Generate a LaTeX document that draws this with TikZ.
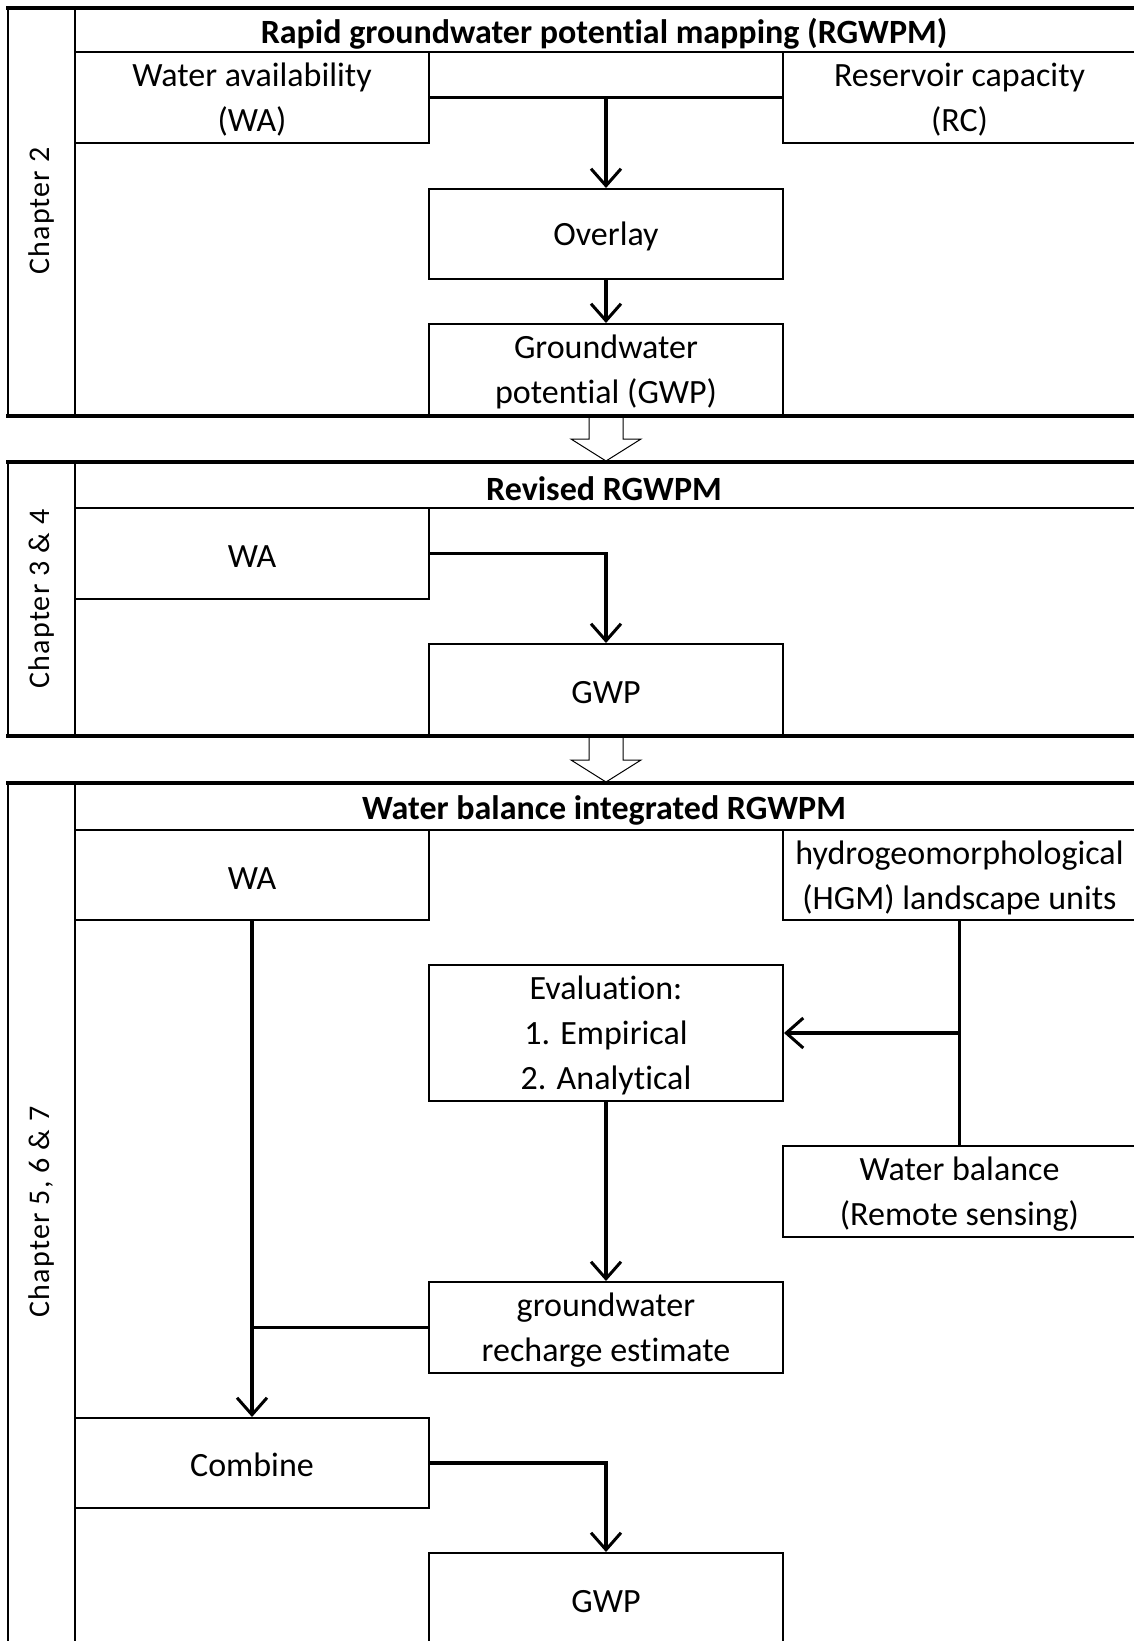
\documentclass[tikz,border=0pt]{standalone}
\usepackage{fontspec}
\setmainfont{Carlito}[Ligatures=NoCommon]
\newfontfamily\chapfont[LetterSpace=4, Ligatures=NoCommon]{Carlito}
\usetikzlibrary{arrows.meta}

\begin{document}
\begin{tikzpicture}[x=1pt, y=-1pt,
  txt/.style={font=\fontsize{34}{45}\selectfont},
  box/.style={txt, draw, line width=2pt, align=center, inner sep=0pt, minimum height=91pt,
    execute at begin node={\rule{0pt}{28pt}}},
  lines/.style={text depth=-5pt},
  leftbox/.style={box, minimum width=354pt},
  midbox/.style={box, minimum width=354pt},
  rightbox/.style={box, minimum width=353pt},
  heading/.style={font=\fontsize{34}{40}\selectfont\bfseries},
  chapter/.style={font=\chapfont\fontsize{30}{36}\selectfont, rotate=90},
  frame/.style={line width=2pt},
  sep/.style={line width=4pt},
  link/.style={line width=3.5pt},
  arr/.style={link, -{Straight Barb[length=17pt, width=30pt, line width=3pt]}},
  hollow/.style={draw, fill=white, line width=1pt}
]
\useasboundingbox[fill=white] (0,0) rectangle (1133,1641);

% Section frames: top / bottom / heading band
\foreach \top/\bot/\head in {8/416/52, 462/736/508, 783/1660/830} {
  \draw[frame] (8,\top) -- (8,\bot);
  \draw[frame] (75,\top) -- (75,\bot);
  \draw[frame] (75,\head) -- (1140,\head);
}

% Chapter 2
\node[chapter] (ch1) at (42,211) {Chapter 2};
\node[heading] (t1) at (604,34) {Rapid groundwater potential mapping (RGWPM)};
\node[leftbox, lines] (wa1) at (252,97.5) {Water availability\\(WA)};
\node[rightbox, lines] (rc1) at (959.5,97.5) {Reservoir capacity\\(RC)};
\node[midbox, minimum height=90pt] (overlay) at (606,234) {Overlay};
\node[midbox, lines] (gwp1) at (606,369.5) {Groundwater\\potential (GWP)};

\draw[link] (wa1.east) -- (rc1.west);
\coordinate (j1) at (wa1.east -| overlay.north);
\draw[arr] (j1) -- (overlay.north);
\draw[arr] (overlay.south) -- (gwp1.south |- gwp1.north);

% Chapter 3 & 4
\node[chapter] (ch2) at (42,599) {Chapter 3 \& 4};
\node[heading] (t2) at (604,489) {Revised RGWPM};
\node[leftbox] (wa2) at (252,553.5) {WA};
\node[midbox, minimum height=92pt] (gwp2) at (606,690) {GWP};

\draw[arr] (wa2.east) -| (gwp2.north);

% Chapter 5, 6 & 7
\node[chapter] (ch3) at (42,1212) {Chapter 5, 6 \& 7};
\node[heading] (t3) at (604,810.5) {Water balance integrated RGWPM};
\node[leftbox, minimum height=90pt] (wa3) at (252,875) {WA};
\node[rightbox, lines, minimum height=90pt] (hgm) at (959.5,875) {hydrogeomorphological\\(HGM) landscape units};
\node[midbox, lines, minimum height=136pt] (eval) at (606,1033) {Evaluation:\\1. Empirical\\2. Analytical};
\node[rightbox, lines] (wb) at (959.5,1191.5) {Water balance\\(Remote sensing)};
\node[midbox, lines] (rech) at (606,1327.5) {groundwater\\recharge estimate};
\node[leftbox, minimum height=90pt] (comb) at (252,1463) {Combine};
\node[midbox, minimum height=92pt] (gwp3) at (606,1599) {GWP};

\draw[link] (hgm.south) -- (wb.north);
\draw[arr] (eval.east -| hgm.south) -- (eval.east);
\draw[arr] (eval.south) -- (rech.north);
\draw[arr] (wa3.south) -- (comb.north);
\draw[link] (rech.west) -- (rech.west -| wa3.south);
\draw[arr] (comb.east) -| (gwp3.north);

% Hollow arrows between sections
\foreach \from in {gwp1, gwp2} {
  \begin{scope}[shift={(\from.south)}]
    \draw[hollow] (-17,0) -- (-17,23) -- (-35,23) -- (0,45) -- (35,23) -- (17,23) -- (17,0);
  \end{scope}
}

% Thick section lines
\draw[sep] (6,8) -- (1140,8);
\draw[sep] (6,416) -- (1140,416);
\draw[sep] (6,462) -- (1140,462);
\draw[sep] (6,736) -- (1140,736);
\draw[sep] (6,783) -- (1140,783);

\end{tikzpicture}
\end{document}
